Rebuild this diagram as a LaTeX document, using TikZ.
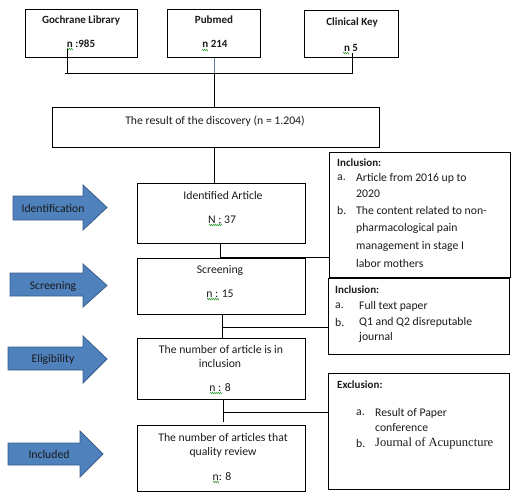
\documentclass[tikz,border=0pt]{standalone}
\usepackage{fontspec}
\setmainfont{Carlito}
\newfontfamily\serifx{Liberation Serif}
\usetikzlibrary{positioning,decorations.pathmorphing}
\definecolor{arrowfill}{HTML}{4F81BD}
\definecolor{arrowline}{HTML}{385D8A}
\definecolor{txt}{HTML}{1A1A1A}
\definecolor{spell}{HTML}{3CA03C}
\begin{document}
\begin{tikzpicture}[x=1pt,y=-1pt,
  box/.style={draw, line width=0.8pt, inner sep=0pt, anchor=north west},
  conn/.style={draw, line width=0.8pt},
  lbl/.style={inner sep=0pt, font=\fontsize{11.7}{13}\selectfont, text=txt},
  blbl/.style={inner sep=0pt, font=\fontsize{11}{13}\selectfont\bfseries, text=txt},
  item/.style={lbl, anchor=west},
  bitem/.style={blbl, anchor=west},
  squig/.style={draw=spell, line width=0.5pt, decorate, decoration={zigzag, segment length=2pt, amplitude=0.8pt}},
  stagearrow/.style={fill=arrowfill, draw=arrowline, line width=0.8pt, line join=miter}
]
\useasboundingbox (0,0) rectangle (521,497);

% boxes
\node[box, minimum width=112pt, minimum height=48pt] (gl) at (25,9) {};
\node[box, minimum width=93pt, minimum height=48pt] (pm) at (167,9) {};
\node[box, minimum width=94pt, minimum height=47pt] (ck) at (304,10) {};
\node[box, minimum width=327pt, minimum height=40pt] (disc) at (52,107) {};
\node[box, minimum width=168pt, minimum height=60pt] (ident) at (137,183) {};
\node[box, minimum width=168pt, minimum height=56pt] (scr) at (137,258) {};
\node[box, line width=1.4pt, minimum width=168pt, minimum height=61pt] (elig) at (137,338) {};
\node[box, minimum width=168pt, minimum height=66pt] (incl) at (137,425) {};
\node[box, minimum width=181pt, minimum height=125pt] (inc1) at (329,152) {};
\node[box, minimum width=181pt, minimum height=76pt] (inc2) at (328,278) {};
\node[box, minimum width=181pt, minimum height=116pt] (exc) at (328,373) {};

% top texts
\node[blbl] (glt) at (81,21) {Gochrane Library};
\node[blbl] (gln) at (81,44) {n :985};
\node[blbl] (pmt) at (214,20) {Pubmed};
\node[blbl] (pmn) at (215,44) {n 214};
\node[blbl] (ckt) at (352,23) {Clinical Key};
\node[blbl] (ckn) at (351,48) {n 5};

% connectors top
\coordinate (g1) at (67,49);
\coordinate (g2) at (67,73);
\coordinate (c1) at (352,53);
\coordinate (c2) at (352,73);
\coordinate (hl) at (65,73);
\coordinate (hr) at (353,73);
\coordinate (pj) at (pm.south |- hl);
\draw[conn] (g1) -- (g2);
\draw[conn] (c1) -- (c2);
\draw[conn] (hl) -- (hr);
\draw[line width=0.8pt, draw=arrowfill!70!gray] (pm.south) -- (pj);
\draw[conn] (pj) -- (pj |- disc.north);

\node[lbl] (disct) at (215,121) {The result of the discovery (n = 1.204)};
\draw[conn] (disc.south -| pj) -- (pj |- ident.north);

% identified
\node[lbl] (idt) at (223,195) {Identified Article};
\node[lbl] (idn) at (222,220) {N ; 37};
\coordinate (i1) at (220,243);
\coordinate (i2) at (220,257);
\draw[conn] (i1) -- (i2) -- (i2 -| inc1.west);

% screening
\node[lbl] (sct) at (220,270) {Screening};
\node[lbl] (scn) at (220,294) {n : 15};
\coordinate (s1) at (222,314);
\coordinate (s2) at (222,327);
\draw[conn] (s1) -- (s1 |- elig.north);
\draw[conn] (s2) -- (s2 -| inc2.west);

% eligibility
\node[lbl] (elt1) at (221,349) {The number of article is in};
\node[lbl] (elt2) at (220,363) {inclusion};
\node[lbl] (eln) at (220,388) {n : 8};
\coordinate (e1) at (223,399);
\coordinate (e2) at (223,422);
\coordinate (e3) at (223,412);
\draw[conn] (e1) -- (e2);
\draw[conn] (e3) -- (e3 -| exc.west);

% included
\node[lbl] (int1) at (223,437) {The number of articles that};
\node[lbl] (int2) at (223,452) {quality review};
\node[lbl] (inn) at (222,477) {n: 8};

% spell-check squiggles
\draw[squig] (67,49) -- (73,49);
\draw[squig] (202,50) -- (208,50);
\draw[squig] (343,53) -- (349,53);
\draw[squig] (209,225) -- (222,225);
\draw[squig] (207,299) -- (219,299);
\draw[squig] (210,393) -- (222,393);
\draw[squig] (213,482) -- (219,482);

% inclusion 1
\node[bitem] (a0) at (337,163) {Inclusion:};
\node[item] (a1l) at (337,178) {a.};
\node[item] (a1) at (356,178) {Article from 2016 up to};
\node[item] (a2) at (356,194) {2020};
\node[item] (a3l) at (337,210) {b.};
\node[item] (a3) at (356,210) {The content related to non-};
\node[item] (a4) at (356,228) {pharmacological pain};
\node[item] (a5) at (356,246) {management in stage I};
\node[item] (a6) at (356,263) {labor mothers};

% inclusion 2
\node[bitem] (b0) at (335,290) {Inclusion:};
\node[item] (b1l) at (335,306) {a.};
\node[item] (b1) at (359,306) {Full text paper};
\node[item] (b2l) at (335,322) {b.};
\node[item] (b2) at (359,322) {Q1 and Q2 disreputable};
\node[item] (b3) at (359,337) {journal};

% exclusion
\node[bitem] (x0) at (337,385) {Exclusion:};
\node[item] (x1l) at (356,413) {a.};
\node[item] (x1) at (375,413) {Result of Paper};
\node[item] (x2) at (375,428) {conference};
\node[item] (x3l) at (356,443) {b.};
\node[item, font=\serifx\fontsize{12.5}{14}\selectfont] (x3) at (375,443) {Journal of Acupuncture};

% stage arrows
\draw[stagearrow] (13,196) -- (83,196) -- (83,185) -- (107,207.5) -- (83,230) -- (83,220) -- (13,220) -- cycle;
\draw[stagearrow] (10,273) -- (83,273) -- (83,264) -- (107,285.5) -- (83,307) -- (83,296) -- (10,296) -- cycle;
\draw[stagearrow] (8,347) -- (83,347) -- (83,336) -- (107,359) -- (83,383) -- (83,370) -- (8,370) -- cycle;
\draw[stagearrow] (8,443) -- (80,443) -- (80,431) -- (103,454) -- (80,477) -- (80,465) -- (8,465) -- cycle;
\node[lbl] (s1t) at (53,208) {Identification};
\node[lbl] (s2t) at (53,286) {Screening};
\node[lbl] (s3t) at (53,359) {Eligibility};
\node[lbl] (s4t) at (49,454) {Included};
\end{tikzpicture}
\end{document}
